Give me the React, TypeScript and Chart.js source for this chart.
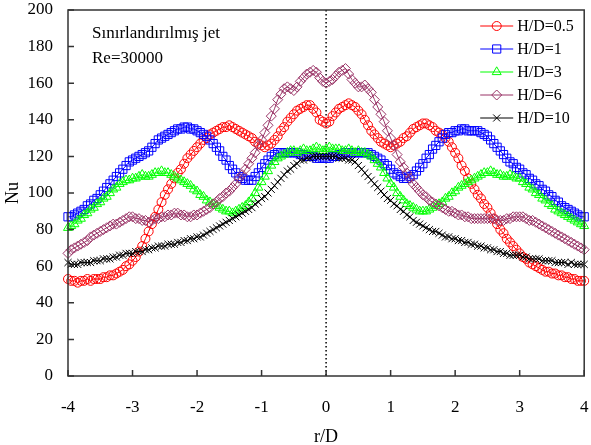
import React, { useEffect, useRef } from 'react';
import { Chart, registerables } from 'chart.js';

Chart.register(...registerables);

const FONT = '"Liberation Serif", "Times New Roman", serif';

// r/D positions (step 0.05 from -4 to 4)
const R_D: number[] = Array.from({ length: 161 }, (_, i) => Math.round((-4 + i * 0.05) * 100) / 100);

const X_TICKS = [-4, -3, -2, -1, 0, 1, 2, 3, 4];
const Y_TICKS = [0, 20, 40, 60, 80, 100, 120, 140, 160, 180, 200];

const LABELS = ['H/D=0.5', 'H/D=1', 'H/D=3', 'H/D=6', 'H/D=10'];
const COLORS = ['#FF0000', '#0000FF', '#00FF00', '#993366', '#000000'];

// H/D = 0.5
const NU_05 = [
  53, 52, 52, 51, 52, 52, 53, 52, 53, 53,
  53, 54, 54, 55, 55, 56, 57, 58, 60, 61,
  63, 65, 68, 71, 75, 79, 83, 87, 91, 95,
  99, 102, 105, 108, 111, 113, 116, 119, 121, 123,
  125, 127, 129, 130, 132, 133, 134, 135, 136, 136,
  137, 136, 135, 134, 133, 132, 131, 130, 128, 127,
  126, 125, 126, 127, 129, 131, 134, 136, 139, 141,
  143, 145, 146, 147, 148, 148, 146, 144, 140, 139,
  138, 139, 142, 144, 146, 147, 148, 149, 148, 147,
  145, 143, 140, 137, 134, 132, 130, 128, 127, 126,
  125, 126, 127, 128, 130, 131, 133, 135, 136, 137,
  138, 138, 137, 136, 134, 133, 132, 130, 128, 125,
  122, 119, 115, 112, 108, 105, 102, 99, 97, 94,
  92, 89, 86, 83, 80, 78, 75, 73, 71, 69,
  67, 65, 64, 62, 61, 60, 59, 58, 57, 57,
  56, 56, 55, 55, 54, 54, 53, 53, 52, 52,
  52,
];

// H/D = 1
const NU_1 = [
  87, 87, 88, 89, 90, 91, 93, 94, 96, 97,
  99, 101, 103, 105, 107, 109, 111, 113, 115, 117,
  118, 119, 120, 121, 122, 123, 125, 127, 129, 130,
  131, 132, 133, 134, 135, 135, 136, 136, 135, 135,
  134, 133, 132, 131, 129, 127, 125, 123, 120, 118,
  115, 113, 111, 109, 108, 107, 107, 107, 109, 111,
  114, 116, 118, 120, 121, 122, 122, 122, 122, 122,
  122, 122, 121, 121, 120, 120, 120, 119, 119, 119,
  119, 119, 120, 120, 121, 121, 122, 122, 122, 122,
  122, 122, 122, 122, 121, 120, 119, 118, 116, 115,
  113, 111, 110, 109, 108, 108, 109, 110, 112, 114,
  116, 119, 121, 124, 126, 128, 130, 132, 133, 133,
  134, 134, 135, 135, 134, 134, 134, 134, 133, 132,
  131, 129, 127, 125, 123, 121, 119, 117, 116, 114,
  113, 111, 110, 108, 107, 105, 104, 102, 101, 99,
  98, 96, 95, 93, 92, 91, 90, 89, 88, 87,
  87,
];

// H/D = 3
const NU_3 = [
  81, 82, 83, 85, 86, 88, 89, 91, 92, 94,
  95, 97, 98, 100, 102, 103, 105, 106, 107, 107,
  108, 108, 109, 110, 109, 109, 110, 111, 111, 112,
  111, 111, 110, 109, 108, 107, 106, 105, 104, 102,
  101, 99, 98, 96, 95, 94, 93, 92, 91, 90,
  90, 89, 90, 91, 92, 93, 95, 97, 100, 103,
  106, 109, 112, 115, 117, 119, 120, 121, 122, 123,
  123, 122, 123, 124, 123, 123, 124, 125, 124, 123,
  124, 125, 124, 124, 124, 123, 123, 124, 123, 122,
  123, 122, 122, 121, 120, 118, 116, 114, 111, 108,
  105, 103, 100, 98, 96, 94, 93, 92, 91, 90,
  90, 90, 91, 92, 93, 94, 95, 97, 98, 100,
  101, 103, 104, 105, 106, 107, 108, 109, 110, 111,
  111, 112, 111, 110, 110, 109, 109, 110, 109, 108,
  108, 106, 105, 103, 102, 100, 99, 97, 96, 94,
  93, 91, 90, 89, 88, 87, 86, 85, 84, 83,
  82,
];

// H/D = 6
const NU_6 = [
  67, 69, 70, 71, 72, 73, 74, 76, 77, 78,
  79, 80, 81, 82, 83, 83, 84, 85, 86, 87,
  87, 86, 86, 85, 85, 84, 85, 86, 86, 87,
  87, 88, 88, 89, 89, 88, 88, 87, 87, 88,
  88, 89, 90, 91, 92, 94, 95, 97, 98, 100,
  101, 103, 105, 108, 110, 113, 116, 119, 122, 126,
  129, 133, 137, 142, 146, 151, 154, 157, 158, 157,
  156, 158, 161, 163, 165, 166, 167, 166, 163, 161,
  160, 161, 162, 164, 166, 167, 168, 165, 162, 160,
  158, 158, 159, 157, 155, 151, 147, 143, 139, 134,
  130, 126, 121, 117, 114, 111, 108, 105, 103, 101,
  99, 98, 96, 95, 94, 93, 92, 91, 90, 90,
  89, 88, 88, 87, 87, 86, 86, 86, 86, 86,
  86, 86, 86, 85, 85, 85, 86, 86, 87, 87,
  87, 87, 86, 85, 85, 84, 83, 82, 81, 80,
  79, 78, 77, 76, 75, 74, 73, 72, 71, 70,
  69,
];

// H/D = 10
const NU_10 = [
  62, 61, 61, 61, 62, 62, 62, 62, 63, 63,
  63, 64, 64, 64, 65, 65, 66, 66, 67, 67,
  67, 68, 68, 68, 69, 69, 70, 70, 71, 71,
  71, 72, 72, 72, 73, 73, 74, 74, 75, 75,
  76, 76, 77, 78, 79, 80, 81, 82, 83, 84,
  85, 86, 87, 88, 89, 90, 91, 92, 94, 95,
  97, 98, 100, 102, 104, 106, 108, 110, 112, 113,
  115, 116, 118, 118, 119, 119, 120, 120, 120, 120,
  120, 120, 120, 120, 119, 119, 119, 118, 118, 117,
  115, 113, 111, 109, 107, 105, 103, 101, 99, 97,
  96, 94, 93, 91, 90, 88, 87, 85, 84, 83,
  82, 81, 80, 79, 79, 78, 77, 76, 76, 75,
  75, 74, 74, 73, 73, 72, 72, 71, 71, 70,
  70, 69, 69, 68, 68, 67, 67, 66, 66, 66,
  66, 65, 65, 64, 64, 64, 64, 63, 63, 63,
  63, 62, 62, 62, 62, 61, 62, 61, 61, 61,
  61,
];

const SERIES = [NU_05, NU_1, NU_3, NU_6, NU_10];
const POINT_STYLES = ['circle', 'rect', 'triangle', 'rectRot', 'crossRot'];
const POINT_RADII = [4.5, 5.8, 5.2, 5, 5];

const ANNOTATION_1 = 'Sınırlandırılmış jet';
const ANNOTATION_2 = 'Re=30000';

function marker(ctx: CanvasRenderingContext2D, style: string, x: number, y: number, r: number) {
  ctx.beginPath();
  if (style === 'circle') {
    ctx.arc(x, y, r, 0, Math.PI * 2);
  } else if (style === 'rect') {
    const s = Math.SQRT1_2 * r;
    ctx.rect(x - s, y - s, 2 * s, 2 * s);
  } else if (style === 'triangle') {
    let a = 0;
    ctx.moveTo(x + Math.sin(a) * r, y - Math.cos(a) * r);
    a += (2 * Math.PI) / 3;
    ctx.lineTo(x + Math.sin(a) * r, y - Math.cos(a) * r);
    a += (2 * Math.PI) / 3;
    ctx.lineTo(x + Math.sin(a) * r, y - Math.cos(a) * r);
    ctx.closePath();
  } else if (style === 'rectRot') {
    ctx.moveTo(x - r, y);
    ctx.lineTo(x, y - r);
    ctx.lineTo(x + r, y);
    ctx.lineTo(x, y + r);
    ctx.closePath();
  } else {
    const o = Math.SQRT1_2 * r;
    ctx.moveTo(x - o, y - o);
    ctx.lineTo(x + o, y + o);
    ctx.moveTo(x - o, y + o);
    ctx.lineTo(x + o, y - o);
  }
  ctx.stroke();
}

const decorPlugin = {
  id: 'decor',
  beforeDatasetsDraw(chart: any) {
    const { ctx, chartArea: a, scales } = chart;
    const px = scales.x.getPixelForValue(0);
    ctx.save();
    ctx.strokeStyle = '#000';
    ctx.lineWidth = 1.5;
    ctx.setLineDash([1.5, 2.5]);
    ctx.beginPath();
    ctx.moveTo(px, a.top);
    ctx.lineTo(px, a.bottom);
    ctx.stroke();
    ctx.restore();
  },
  afterDatasetsDraw(chart: any) {
    const { ctx, chartArea: a, scales } = chart;
    ctx.save();
    // frame
    ctx.strokeStyle = '#333';
    ctx.lineWidth = 1.5;
    ctx.strokeRect(a.left, a.top, a.right - a.left, a.bottom - a.top);
    // inward ticks
    ctx.beginPath();
    scales.x.ticks.forEach((t: any) => {
      const p = scales.x.getPixelForValue(t.value);
      ctx.moveTo(p, a.bottom);
      ctx.lineTo(p, a.bottom - 6);
    });
    scales.y.ticks.forEach((t: any) => {
      const p = scales.y.getPixelForValue(t.value);
      ctx.moveTo(a.left, p);
      ctx.lineTo(a.left + 6, p);
    });
    ctx.stroke();

    // annotations
    ctx.fillStyle = '#000';
    ctx.font = `17px ${FONT}`;
    ctx.textAlign = 'left';
    ctx.textBaseline = 'alphabetic';
    ctx.fillText(ANNOTATION_1, a.left + 24, a.top + 28);
    ctx.fillText(ANNOTATION_2, a.left + 24, a.top + 53);

    // legend
    ctx.font = `16px ${FONT}`;
    ctx.textBaseline = 'middle';
    const lx0 = a.right - 104;
    const lx1 = a.right - 71;
    const tx = a.right - 67;
    LABELS.forEach((label, i) => {
      const yy = a.top + 16 + i * 23;
      ctx.strokeStyle = COLORS[i];
      ctx.lineWidth = 1;
      ctx.beginPath();
      ctx.moveTo(lx0, yy);
      ctx.lineTo(lx1, yy);
      ctx.stroke();
      marker(ctx, POINT_STYLES[i], (lx0 + lx1) / 2, yy, POINT_RADII[i]);
      ctx.fillStyle = '#000';
      ctx.fillText(label, tx, yy + 1);
    });
    ctx.restore();
  },
};

export default function App() {
  const ref = useRef<HTMLCanvasElement>(null);
  useEffect(() => {
    document.body.style.margin = '0';
    const datasets = SERIES.map((vals, i) => ({
      label: LABELS[i],
      data: R_D.map((x, j) => ({ x, y: vals[j] })),
      borderColor: COLORS[i],
      backgroundColor: 'rgba(0,0,0,0)',
      borderWidth: 1,
      pointStyle: POINT_STYLES[i],
      pointRadius: POINT_RADII[i],
      pointBorderColor: COLORS[i],
      pointBackgroundColor: 'rgba(0,0,0,0)',
      pointBorderWidth: 1,
      tension: 0,
      fill: false,
      clip: false as any,
      order: i === 4 ? 0 : 5 - i,
    }));
    const chart = new Chart(ref.current as HTMLCanvasElement, {
      type: 'line',
      data: { datasets },
      options: {
        responsive: false,
        animation: false,
        devicePixelRatio: 1,
        layout: { padding: { top: 10, right: 3, left: 0, bottom: 0 } },
        plugins: { legend: { display: false }, tooltip: { enabled: false } },
        scales: {
          x: {
            type: 'linear',
            min: -4,
            max: 4,
            afterBuildTicks: (s: any) => {
              s.ticks = X_TICKS.map((v) => ({ value: v }));
            },
            afterFit: (s: any) => {
              s.height = 69;
              s.paddingLeft = 0;
              s.paddingRight = 0;
            },
            grid: { display: true, drawOnChartArea: false, drawTicks: false },
            border: { display: false },
            ticks: {
              color: '#000',
              font: { family: FONT, size: 17 },
              padding: 21,
              maxRotation: 0,
              autoSkip: false,
            },
            title: {
              display: true,
              text: 'r/D',
              color: '#000',
              font: { family: FONT, size: 18, lineHeight: 0.8 },
              padding: { top: 0, bottom: 1 },
            },
          },
          y: {
            type: 'linear',
            min: 0,
            max: 200,
            afterBuildTicks: (s: any) => {
              s.ticks = Y_TICKS.map((v) => ({ value: v }));
            },
            afterFit: (s: any) => {
              s.width = 68;
              s.paddingTop = 0;
              s.paddingBottom = 0;
            },
            grid: { display: true, drawOnChartArea: false, drawTicks: false },
            border: { display: false },
            ticks: {
              color: '#000',
              font: { family: FONT, size: 17 },
              padding: 15,
              autoSkip: false,
            },
            title: {
              display: true,
              text: 'Nu',
              color: '#000',
              font: { family: FONT, size: 18, lineHeight: 1.2 },
              padding: { top: 2, bottom: 0 },
            },
          },
        },
      } as any,
      plugins: [decorPlugin],
    });
    return () => chart.destroy();
  }, []);
  return <canvas ref={ref} width={591} height={445} style={{ display: 'block' }} />;
}
